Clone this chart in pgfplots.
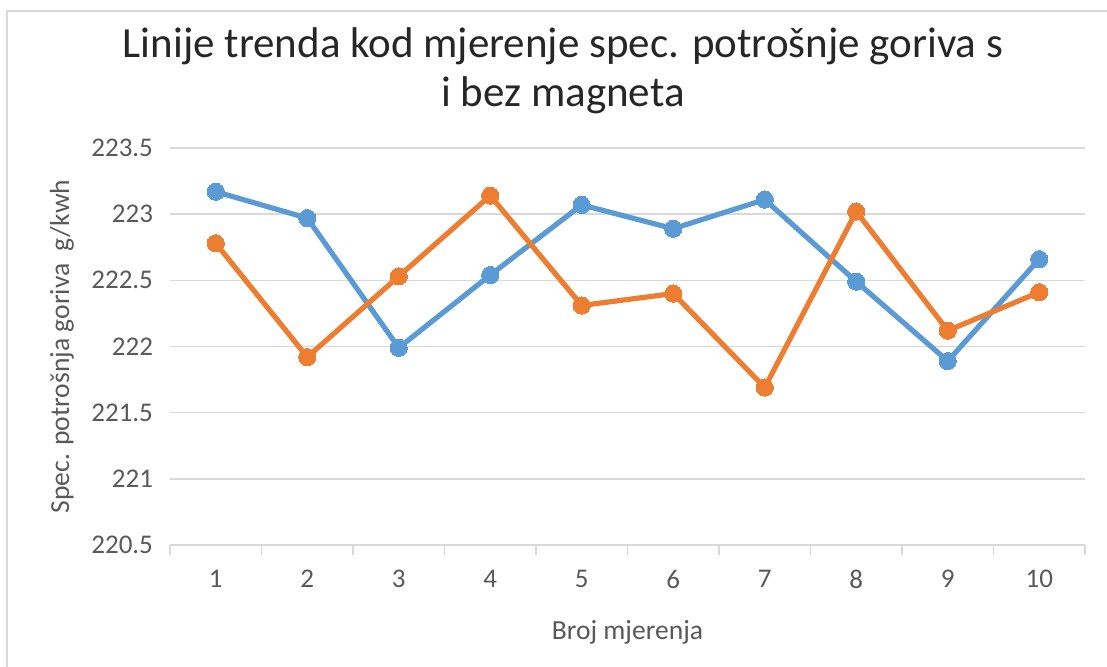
\documentclass[border=0pt]{standalone}
\usepackage{pgfplots}
\pgfplotsset{compat=1.18}
\usepackage{fontspec}
\setmainfont{Carlito}
\definecolor{cblue}{HTML}{5B9BD5}
\definecolor{corange}{HTML}{ED7D31}
\definecolor{tickgray}{HTML}{595959}
\definecolor{gridgray}{HTML}{D9D9D9}
\begin{document}
\begin{tikzpicture}
\path[use as bounding box] (-85pt,-61pt) rectangle (468.5pt,272.5pt);
\draw[gridgray, line width=0.8pt] (-81.5pt,-61pt) -- (-81.5pt,267pt) -- (468.5pt,267pt);
\begin{axis}[
  at={(0pt,0pt)}, anchor=south west,
  scale only axis, width=457.5pt, height=198.5pt,
  xmin=0.5, xmax=10.5, ymin=220.5, ymax=223.5,
  xtick={1,...,10}, minor xtick={0.5,1.5,...,10.5},
  ytick={220.5,221,...,223.5},
  yticklabels={220.5,221,221.5,222,222.5,223,223.5},
  major tick length=0pt, minor tick length=5pt,
  tick align=outside,
  axis x line*=bottom, axis y line*=left,
  x axis line style={color=gridgray, line width=1pt},
  y axis line style={draw=none},
  minor x tick style={color=gridgray, line width=0.8pt},
  ymajorgrids, grid style={color=gridgray, line width=0.8pt},
  tick label style={font=\fontsize{13.5}{15}\selectfont, text=tickgray},
  /pgf/number format/assume math mode=true,
  yticklabel style={xshift=-5pt},
  xticklabel style={yshift=-9pt},
  xlabel={Broj mjerenja},
  ylabel={Spec. potrošnja goriva~~g/kwh},
  label style={font=\fontsize{13.8}{15}\selectfont, text=tickgray},
  xlabel style={at={(axis description cs:0.5,0)}, anchor=center, yshift=-43.5pt},
  ylabel style={at={(axis description cs:0,0.5)}, anchor=center, xshift=0pt, yshift=54pt},
  clip=false,
]
\addplot[cblue, line width=2.6pt, line join=round, mark=*, mark size=4.3pt, mark options={fill=cblue, draw=cblue, line width=0pt}]
coordinates {(1,223.17) (2,222.97) (3,221.99) (4,222.54) (5,223.07) (6,222.89) (7,223.11) (8,222.49) (9,221.89) (10,222.66)};
\addplot[corange, line width=2.6pt, line join=round, mark=*, mark size=4.3pt, mark options={fill=corange, draw=corange, line width=0pt}]
coordinates {(1,222.78) (2,221.92) (3,222.53) (4,223.14) (5,222.31) (6,222.40) (7,221.69) (8,223.02) (9,222.12) (10,222.41)};
\end{axis}
\node[align=center, font=\fontsize{21.5}{24.5}\selectfont, text=black!85, inner sep=0pt] at (196.5pt,237pt) {Linije trenda kod mjerenje spec. potrošnje goriva s\\i bez magneta};
\end{tikzpicture}
\end{document}
